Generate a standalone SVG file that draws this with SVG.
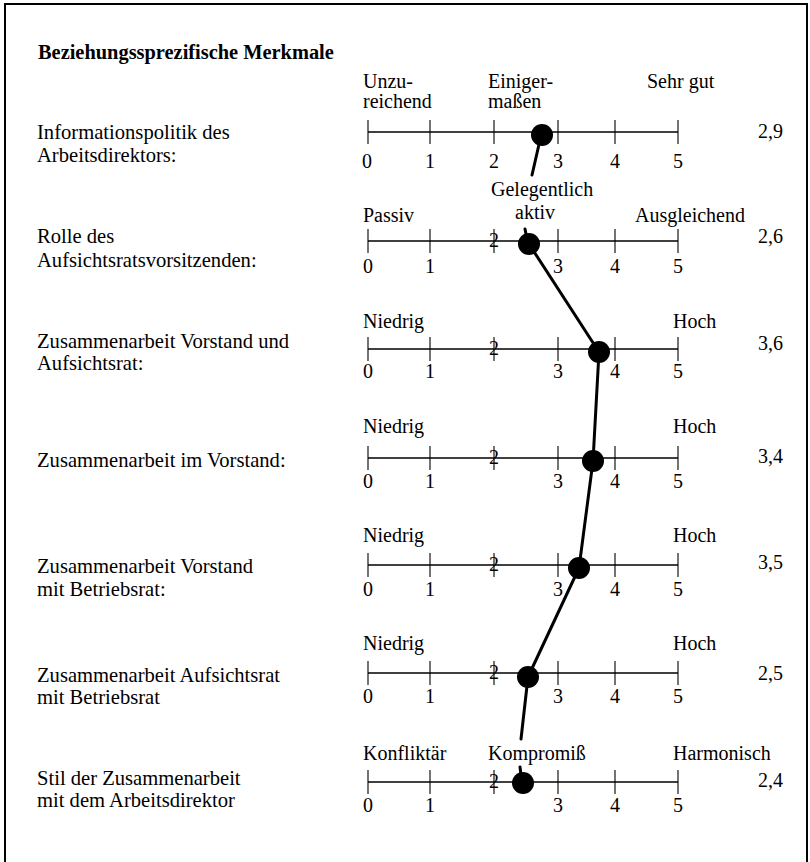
<svg xmlns="http://www.w3.org/2000/svg" width="810" height="862" viewBox="0 0 810 862">
  <style>
    text { font-family: "Liberation Serif", "Times New Roman", "DejaVu Serif", serif; font-size: 20px; fill: #000; }
    .title { font-weight: bold; font-size: 20.4px; }
    .label { font-size: 20.6px; }
    .num { text-anchor: middle; }
    .val { text-anchor: end; }
    .axis { stroke: #000; stroke-width: 1.4; fill: none; }
    .tick { stroke: #000; stroke-width: 1.1; }
    .dot { fill: #000; }
    .link { stroke: #000; stroke-width: 3; fill: none; stroke-linecap: round; }
    .frame { stroke: #000; stroke-width: 2; fill: none; }
  </style>
  <defs>
    <!-- six ticks of a 0..5 scale, axis at y=0 -->
    <g id="ticks">
      <line class="tick" x1="368" y1="-12" x2="368" y2="12"/>
      <line class="tick" x1="430" y1="-12" x2="430" y2="12"/>
      <line class="tick" x1="494" y1="-12" x2="494" y2="12"/>
      <line class="tick" x1="558" y1="-12" x2="558" y2="12"/>
      <line class="tick" x1="615" y1="-12" x2="615" y2="12"/>
      <line class="tick" x1="678" y1="-12" x2="678" y2="12"/>
      <line class="axis" x1="368" y1="0" x2="678" y2="0"/>
    </g>
  </defs>

  <rect width="810" height="862" fill="#fff"/>

  <!-- open frame: top, left and right edges -->
  <path class="frame" d="M5,862 V4 H807 V862"/>

  <text class="title" x="38" y="59">Beziehungssprezifische Merkmale</text>

  <!-- Row 1 -->
  <g id="row-info">
    <text class="label" x="37" y="139">Informationspolitik des</text>
    <text class="label" x="37" y="162">Arbeitsdirektors:</text>
    <text x="363" y="88">Unzu-</text>
    <text x="363" y="108">reichend</text>
    <text x="488" y="88">Einiger-</text>
    <text x="488" y="108">maßen</text>
    <text x="647" y="88">Sehr gut</text>
    <use href="#ticks" y="132"/>
    <text class="num" x="367" y="168">0</text>
    <text class="num" x="430" y="168">1</text>
    <text class="num" x="494" y="168">2</text>
    <text class="num" x="558" y="168">3</text>
    <text class="num" x="615" y="168">4</text>
    <text class="num" x="678" y="168">5</text>
    <text class="val" x="783" y="138">2,9</text>
    <circle class="dot" cx="542" cy="135" r="11"/>
  </g>

  <!-- Row 2 -->
  <g id="row-rolle">
    <text class="label" x="37" y="243">Rolle des</text>
    <text class="label" x="37" y="267">Aufsichtsratsvorsitzenden:</text>
    <text x="491" y="196">Gelegentlich</text>
    <text class="num" x="535" y="219">aktiv</text>
    <text x="363" y="222">Passiv</text>
    <text x="635" y="222">Ausgleichend</text>
    <use href="#ticks" y="241"/>
    <text class="num" x="494" y="247">2</text>
    <text class="num" x="368" y="273">0</text>
    <text class="num" x="430" y="273">1</text>
    <text class="num" x="558" y="273">3</text>
    <text class="num" x="615" y="273">4</text>
    <text class="num" x="678" y="273">5</text>
    <text class="val" x="783" y="243">2,6</text>
    <circle class="dot" cx="529" cy="244" r="11"/>
  </g>

  <!-- Row 3 -->
  <g id="row-vorstand-ar">
    <text class="label" x="37" y="348">Zusammenarbeit Vorstand und</text>
    <text class="label" x="37" y="370">Aufsichtsrat:</text>
    <text x="363" y="328">Niedrig</text>
    <text x="673" y="328">Hoch</text>
    <use href="#ticks" y="349"/>
    <text class="num" x="494" y="355">2</text>
    <text class="num" x="368" y="378">0</text>
    <text class="num" x="430" y="378">1</text>
    <text class="num" x="558" y="378">3</text>
    <text class="num" x="615" y="378">4</text>
    <text class="num" x="678" y="378">5</text>
    <text class="val" x="783" y="350">3,6</text>
    <circle class="dot" cx="599" cy="352" r="11"/>
  </g>

  <!-- Row 4 -->
  <g id="row-im-vorstand">
    <text class="label" x="37" y="467">Zusammenarbeit im Vorstand:</text>
    <text x="363" y="433">Niedrig</text>
    <text x="673" y="433">Hoch</text>
    <use href="#ticks" y="458"/>
    <text class="num" x="494" y="464">2</text>
    <text class="num" x="368" y="488">0</text>
    <text class="num" x="430" y="488">1</text>
    <text class="num" x="558" y="488">3</text>
    <text class="num" x="615" y="488">4</text>
    <text class="num" x="678" y="488">5</text>
    <text class="val" x="783" y="463">3,4</text>
    <circle class="dot" cx="593" cy="461" r="11"/>
  </g>

  <!-- Row 5 -->
  <g id="row-vorstand-br">
    <text class="label" x="37" y="573">Zusammenarbeit Vorstand</text>
    <text class="label" x="37" y="596">mit Betriebsrat:</text>
    <text x="363" y="542">Niedrig</text>
    <text x="673" y="542">Hoch</text>
    <use href="#ticks" y="565"/>
    <text class="num" x="494" y="571">2</text>
    <text class="num" x="368" y="596">0</text>
    <text class="num" x="430" y="596">1</text>
    <text class="num" x="558" y="596">3</text>
    <text class="num" x="615" y="596">4</text>
    <text class="num" x="678" y="596">5</text>
    <text class="val" x="783" y="569">3,5</text>
    <circle class="dot" cx="579" cy="568" r="11"/>
  </g>

  <!-- Row 6 -->
  <g id="row-ar-br">
    <text class="label" x="37" y="682">Zusammenarbeit Aufsichtsrat</text>
    <text class="label" x="37" y="704">mit Betriebsrat</text>
    <text x="363" y="650">Niedrig</text>
    <text x="673" y="650">Hoch</text>
    <use href="#ticks" y="673"/>
    <text class="num" x="494" y="679">2</text>
    <text class="num" x="368" y="703">0</text>
    <text class="num" x="430" y="703">1</text>
    <text class="num" x="558" y="703">3</text>
    <text class="num" x="615" y="703">4</text>
    <text class="num" x="678" y="703">5</text>
    <text class="val" x="783" y="680">2,5</text>
    <circle class="dot" cx="528" cy="677" r="11"/>
  </g>

  <!-- Row 7 -->
  <g id="row-stil">
    <text class="label" x="37" y="785">Stil der Zusammenarbeit</text>
    <text class="label" x="37" y="807">mit dem Arbeitsdirektor</text>
    <text x="363" y="760">Konfliktär</text>
    <text x="488" y="760">Kompromiß</text>
    <text x="673" y="760">Harmonisch</text>
    <use href="#ticks" y="782"/>
    <text class="num" x="494" y="788">2</text>
    <text class="num" x="368" y="812">0</text>
    <text class="num" x="430" y="812">1</text>
    <text class="num" x="558" y="812">3</text>
    <text class="num" x="615" y="812">4</text>
    <text class="num" x="678" y="812">5</text>
    <text class="val" x="783" y="787">2,4</text>
    <circle class="dot" cx="523" cy="783" r="11"/>
  </g>

  <!-- profile line joining the mean values -->
  <g id="connectors">
    <line class="link" x1="540" y1="140" x2="532" y2="175"/>
    <line class="link" x1="525" y1="229" x2="528" y2="244"/>
    <line class="link" x1="529" y1="244" x2="599" y2="352"/>
    <line class="link" x1="599" y1="352" x2="593" y2="461"/>
    <line class="link" x1="593" y1="461" x2="579" y2="568"/>
    <line class="link" x1="579" y1="568" x2="528" y2="677"/>
    <line class="link" x1="528" y1="677" x2="521" y2="739"/>
    <line class="link" x1="520" y1="767" x2="522" y2="783"/>
  </g>
</svg>
